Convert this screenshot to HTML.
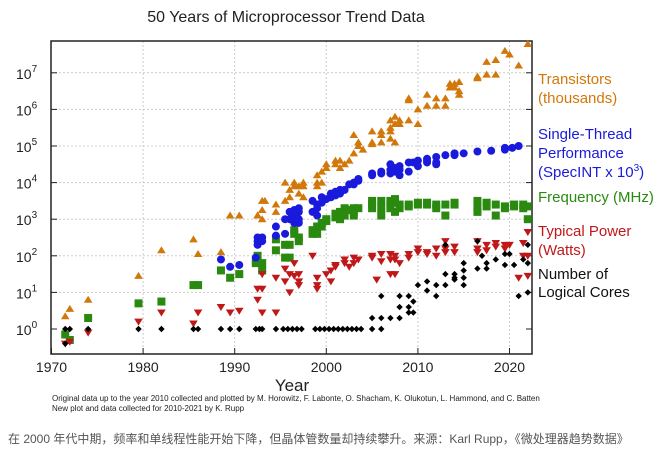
<!DOCTYPE html>
<html><head><meta charset="utf-8"><style>
body{margin:0;background:#fff;width:667px;height:454px;overflow:hidden}
svg text{font-family:"Liberation Sans",sans-serif}
</style></head><body>
<svg id="s" width="667" height="454" xmlns="http://www.w3.org/2000/svg">
<text x="286" y="22" font-size="16" text-anchor="middle" fill="#222">50 Years of Microprocessor Trend Data</text>
<g id="grid" stroke="#ccc" stroke-dasharray="2,2" stroke-width="1"></g>
<rect x="51" y="41" width="481" height="313" fill="none" stroke="#222" stroke-width="1.5"/>
<g id="ticks" font-size="14" fill="#222"></g>
<g id="pts"></g>
<g font-size="15">
<text x="538" y="84" fill="#d2780a">Transistors</text>
<text x="538" y="103" fill="#d2780a">(thousands)</text>
<text x="538" y="139" fill="#1a1adc">Single-Thread</text>
<text x="538" y="158" fill="#1a1adc">Performance</text>
<text x="538" y="177" fill="#1a1adc">(SpecINT x 10<tspan dy="-6" font-size="10">3</tspan><tspan dy="6">)</tspan></text>
<text x="538" y="202" fill="#2a8a10">Frequency (MHz)</text>
<text x="538" y="236" fill="#c01818">Typical Power</text>
<text x="538" y="255" fill="#c01818">(Watts)</text>
<text x="538" y="279" fill="#111">Number of</text>
<text x="538" y="297" fill="#111">Logical Cores</text>
</g>
<text x="292" y="391" font-size="17" text-anchor="middle" fill="#222">Year</text>
<text x="52" y="401" font-size="8" fill="#222">Original data up to the year 2010 collected and plotted by M. Horowitz, F. Labonte, O. Shacham, K. Olukotun, L. Hammond, and C. Batten</text>
<text x="52" y="411" font-size="8" fill="#222">New plot and data collected for 2010-2021 by K. Rupp</text>
<text x="8" y="443" font-size="12" fill="#555" style='font-family:"Liberation Sans","Noto Sans CJK SC",sans-serif'>在 2000 年代中期，频率和单线程性能开始下降，但晶体管数量却持续攀升。来源：Karl Rupp，《微处理器趋势数据》</text>
</svg>
<script>
var NS="http://www.w3.org/2000/svg",s=document.getElementById('s');
function X(y){return 51.5+(y-1970)*9.16}function Y(v){return 329-v*36.6}
function el(t,a,p){var e=document.createElementNS(NS,t);for(var k in a)e.setAttribute(k,a[k]);(p||s).appendChild(e);return e}
var g=document.getElementById('grid'),tk=document.getElementById('ticks'),P=document.getElementById('pts');
for(var yr=1980;yr<=2020;yr+=10){el('line',{x1:X(yr),x2:X(yr),y1:41,y2:354},g);}
for(var yr=1970;yr<=2020;yr+=10){var t=el('text',{x:X(yr),y:372,'text-anchor':'middle'},tk);t.textContent=yr;
el('line',{x1:X(yr),x2:X(yr),y1:354,y2:348,stroke:'#222'},tk);}
for(var d=0;d<=7;d++){var y=Y(d);if(d>0)el('line',{x1:51,x2:532,y1:y,y2:y},g);
var t=el('text',{x:16,y:y+6},tk);t.innerHTML='10<tspan dy="-7" font-size="10">'+d+'</tspan>';
el('line',{x1:51,x2:57,y1:y,y2:y,stroke:'#222'},tk);el('line',{x1:532,x2:526,y1:y,y2:y,stroke:'#222'},tk);}
function parse(str){var o=[];str.split(';').forEach(function(p){p=p.trim();if(!p)return;var a=p.split(/[ ,]+/).map(Number);for(var i=1;i<a.length;i++)o.push([a[0],a[i]]);});return o}
var T=parse("1971.5 0.35;1972 0.55;1974 0.8;1979.5 1.45;1982 2.15;1985.5 2.45;1986 2.05;1988.5 2.1;1989.5 3.1;1990.5 3.1;1992.5 3.1,3.1;1993 3.5,3.25,3.0;1993.3 3.5;1994.5 3.2,3.4;1995.5 3.5,4.0;1996 3.8,3.6;1996.5 3.9,4.0;1997 3.7,3.9;1997.5 3.6,3.9,4.0;1999 4.2,3.9,4.0;1999.5 4.3,4.0;2000 4.4,4.5;2001 4.5,4.6;2001.5 4.6,4.4;2002 4.5;2002.5 4.6;2003 4.8,5.3;2003.5 5.1,5.0;2004 4.9;2005 5.4,5.05,5.1;2006 5.4,5.1,5.3;2007 5.5,5.2,5.7,5.4;2007.5 5.8,5.6,5.1;2008 5.7,5.6;2009 5.7,6.3,6.25;2010 5.6,6.0;2011 6.4,6.1;2012 6.1,6.3;2013 6.1,6.3;2013.5 6.7,6.6;2014 6.6,6.7;2014.5 6.5,6.75,6.4;2016.5 6.9,6.85;2017.5 7.3,6.95;2018.5 7.35,6.95;2019.5 7.6;2020 7.5;2021 7.2;2022 7.8");
var B=parse("1988.5 1.9;1989.5 1.7;1990.5 1.75;1992.3 1.95;1992.5 2.4,2.3,2.5;1993 2.5,2.4;1994.5 2.8,2.55;1995.5 3.0,2.6;1996 3.0,3.2;1996.5 2.9,3.1,3.25;1997 3.2,3.0,2.9,3.3;1998.5 3.2,3.5;1999 3.1,3.4,3.3;1999.5 3.6,3.45;2000 3.55;2000.5 3.7,3.6;2001 3.75,3.65;2001.5 3.8,3.7;2002 3.8;2002.5 3.95;2003 4.0,3.95;2003.5 4.05,4.1;2005 4.25,4.2;2006 4.25,4.3;2007 4.35,4.5,4.25;2007.5 4.4,4.3;2008 4.45,4.2,4.35;2009 4.55,4.3;2009.5 4.55;2010 4.6,4.45;2011 4.6,4.65,4.55;2012 4.7,4.5,4.55;2013 4.75;2014 4.8,4.75;2015 4.8;2016.5 4.85;2018 4.87;2019.5 4.95,4.9;2020.3 4.95;2021 5.0");
var G=parse("1971.5 -0.15;1972 -0.3;1974 0.3;1979.5 0.7;1982 0.75;1985.5 1.2;1986 1.2;1988.5 1.6;1989.5 1.4;1990.5 1.5;1992.3 1.8;1992.5 2.0;1993 1.8,1.6;1994.5 2.15,2.45;1995.5 1.95,2.3;1996 1.95,2.3;1996.5 2.6,2.7;1997 2.4,2.5;1998.5 2.7,2.6;1999 2.8,2.6;1999.5 2.9,2.8;2000 2.95,3.0;2001 3.05,3.15;2001.5 3.2,3.0;2002 3.3,3.1;2002.5 3.25;2003 3.2,3.3,3.1;2003.5 3.3;2005 3.3,3.5,3.4;2006 3.1,3.5,3.3;2007 3.4,3.5,3.3;2007.5 3.55,3.45,3.2;2008 3.4,3.3;2009 3.4,3.35;2010 3.4,3.45;2011 3.45,3.4;2012 3.3,3.4;2013 3.1,3.4;2014 3.4,3.45;2016.5 3.5,3.3,3.2;2017.5 3.35,3.45;2018.5 3.1,3.4;2019.5 3.3,3.35;2020.5 3.35,3.4;2021.5 3.4,3.3;2022 3.0,3.35");
var R=parse("1971.5 -0.4;1972 -0.35;1974 -0.1;1979.5 0.2;1982 0.45;1985.5 0.15;1986 0.45;1988.5 0.6;1989.5 0.45;1990.5 0.5;1992.5 0.8,1.1;1993 1.1,0.45,1.5;1994.5 1.4,0.45;1995.5 1.65,1.3;1996 1.5,1.0;1996.5 1.45,1.8;1997 1.5,1.3,1.2;1998.5 2.0;1999 1.4,1.2,1.1;2000 1.5;2000.5 1.3,1.6;2001 1.75,1.7;2002 1.9,1.8;2002.5 1.7;2003 1.95,1.8;2003.5 1.9;2005 2.0,1.95;2005.5 1.35;2006 2.05,1.85;2007 2.05,1.5,1.9;2007.5 2.0,1.5,1.9;2008 1.8;2009 2.05,1.95;2010 2.1,2.2;2011 2.1,2.05;2012 2.2,2.0;2013 2.4,2.2,2.1;2014 2.25,2.1;2016.5 2.4,2.2,2.1;2017.5 2.3,2.15;2018.5 2.35,2.25;2019.5 2.3,2.2;2020 2.3;2021 1.4;2021.5 2.35,2.0;2022 2.65,1.45,2.0");
var K=parse("1971.5 0,-0.4;1972 0;1974 0;1979.5 0;1982 0;1985.5 0;1986 0;1988.5 0;1989.5 0;1990.5 0;1992.3 0;1992.7 0;1993 0;1994.5 0;1995.3 0;1995.8 0;1996.3 0;1996.8 0;1997.3 0;1998.8 0;1999.3 0;1999.8 0;2000.3 0;2000.8 0;2001.3 0;2001.8 0;2002.3 0;2002.8 0;2003.3 0;2003.8 0;2005 0.3,0;2006 0.3,0.9,0;2007 0.3;2008 0.3,0.6,0.9;2009 0.45,0.6,0.9;2009.5 0.75,0.45;2010 1.2;2011 1.05,1.3;2012 0.9,1.2;2013 1.5,1.2,2.3;2014 1.35,1.4,1.5;2015 1.8,1.2,1.4,1.6;2016.5 1.65,2.4;2017 2.0;2017.5 1.8,1.65;2018.5 1.9;2019.5 1.75,2.05;2020 2.05;2020.5 1.75;2021 0.9;2021.5 1.9;2022 2.3,1.8,1.0");
function clipY(v){return Y(v)}
T.forEach(function(p){var x=X(p[0]),y=Y(p[1]);if(y<44)y=44;el('polygon',{points:(x)+','+(y-4)+' '+(x-4.3)+','+(y+3)+' '+(x+4.3)+','+(y+3),fill:'#d2780a'},P)});
G.forEach(function(p){var x=X(p[0]),y=Y(p[1]);el('rect',{x:x-4,y:y-4,width:8,height:8,fill:'#2a8a10'},P)});
B.forEach(function(p){el('circle',{cx:X(p[0]),cy:Y(p[1]),r:4,fill:'#1a1adc'},P)});
R.forEach(function(p){var x=X(p[0]),y=Y(p[1]);el('polygon',{points:(x)+','+(y+4)+' '+(x-4.3)+','+(y-3)+' '+(x+4.3)+','+(y-3),fill:'#c01818'},P)});
K.forEach(function(p){var x=X(p[0]),y=Y(p[1]);el('polygon',{points:x+','+(y-3.2)+' '+(x+3.2)+','+y+' '+x+','+(y+3.2)+' '+(x-3.2)+','+y,fill:'#000'},P)});
</script>
</body></html>
